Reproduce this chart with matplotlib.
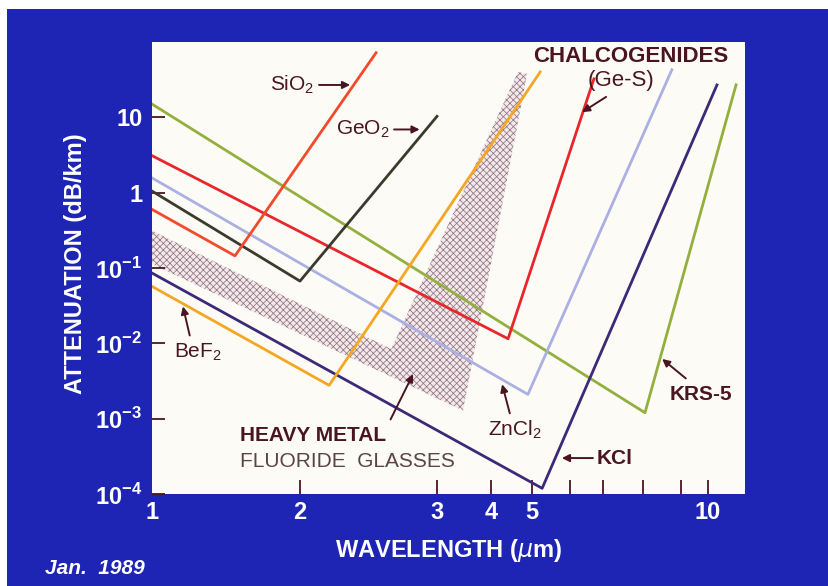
import numpy as np
import matplotlib.pyplot as plt
from matplotlib.patches import Rectangle

plt.rcParams['font.family'] = ['Liberation Sans', 'DejaVu Sans']
plt.rcParams['hatch.linewidth'] = 0.55

# wavelength (um) / attenuation (dB/km): start, minimum, end of each V curve
sio2_um = [1.0, 1.475, 2.505]
sio2_db = [0.6, 0.145, 72]
geo2_um = [1.0, 2.0, 3.0]
geo2_db = [1.05, 0.067, 10.3]
chalco_um = [1.0, 4.39, 6.71]
chalco_db = [3.1, 0.0115, 32.4]
zncl2_um = [1.0, 4.89, 8.75]
zncl2_db = [1.57, 0.0021, 42.8]
krs5_um = [1.0, 8.05, 11.17]
krs5_db = [15, 1.2e-3, 27]
kcl_um = [1.0, 5.25, 10.36]
kcl_db = [0.0857, 1.19e-4, 26.9]
bef2_um = [1.0, 2.18, 5.2]
bef2_db = [0.057, 0.00277, 40]

# heavy metal fluoride glasses: shaded region outline
hmf_um = [1.0, 2.62, 4.63, 4.87, 3.445, 1.0]
hmf_db = [0.314, 8.4e-3, 40, 37.8, 1.28e-3, 0.113]

x_ticks = [1, 2, 3, 4, 5, 10]
x_minor = [6, 7, 8, 9]
y_ticks = [1e-4, 1e-3, 1e-2, 1e-1, 1, 10]
y_labels = ['10$^{\\mathregular{-4}}$', '10$^{\\mathregular{-3}}$',
            '10$^{\\mathregular{-2}}$', '10$^{\\mathregular{-1}}$', '1', '10']

# the wavelength axis is hand ruled: tick spacing per decade is uneven
axis_um = np.log10([0.5, 1, 2, 3, 4, 5, 6, 7, 8, 9, 10, 20])
axis_pos = np.array([-148, 0, 148, 285, 339, 380, 418, 451, 491, 529, 556, 732], float)


def forward(x):
    return np.interp(np.log10(np.maximum(x, 1e-6)), axis_um, axis_pos)


def inverse(p):
    return 10 ** np.interp(p, axis_pos, axis_um)


blue = '#1e24b4'
ink = '#4a1522'

fig = plt.figure(figsize=(8.29, 5.86), dpi=100, facecolor='white')
fig.patches.append(Rectangle((7 / 829, 0), 1, 577 / 586, transform=fig.transFigure,
                             facecolor=blue, edgecolor='none', zorder=-5))

ax = fig.add_axes([152 / 829, 92 / 586, 593 / 829, 452 / 586])
ax.set_facecolor('#fdfbf6')
ax.set_xscale('function', functions=(forward, inverse))
ax.set_yscale('log')
ax.set_xlim(1, 11.57)
ax.set_ylim(1e-4, 1e2)

ax.fill(hmf_um, hmf_db, facecolor='#f1e9ea', edgecolor='#957584', hatch='xxxxx',
        linewidth=0, zorder=1)

lw = 2.0
ax.plot(krs5_um, krs5_db, color='#93b03e', lw=lw, zorder=2)
ax.plot(chalco_um, chalco_db, color='#e8262c', lw=lw, zorder=2)
ax.plot(zncl2_um, zncl2_db, color='#aab0e2', lw=lw, zorder=2)
ax.plot(geo2_um, geo2_db, color='#3b3a2c', lw=lw, zorder=2)
ax.plot(sio2_um, sio2_db, color='#f24a2a', lw=lw, zorder=2)
ax.plot(kcl_um, kcl_db, color='#3b2a78', lw=lw, zorder=2)
ax.plot(bef2_um, bef2_db, color='#f5a623', lw=lw, zorder=3)

for s in ax.spines.values():
    s.set_visible(False)

tick_font = dict(family=['Liberation Sans Narrow', 'Liberation Sans', 'DejaVu Sans'],
                 weight='bold', size=17, color='white')
ax.set_xticks(x_ticks)
ax.set_xticklabels([str(t) for t in x_ticks], **tick_font)
ax.set_xticks(x_minor, minor=True)
ax.set_yticks(y_ticks)
ax.set_yticklabels(y_labels, **tick_font)
ax.yaxis.set_minor_locator(plt.NullLocator())
ax.tick_params(axis='x', which='both', direction='in', length=10, width=1.3,
               color=ink, pad=5)
ax.tick_params(axis='y', direction='in', length=9, width=1.3, color=ink, pad=7)
ax.xaxis.get_major_ticks()[0].tick1line.set_visible(False)

ax.set_xlabel('WAVELENGTH ($\\mu$m)', **tick_font)
ax.xaxis.set_label_coords(0.50, -0.095)
ax.set_ylabel('ATTENUATION (dB/km)', **tick_font)
ax.yaxis.set_label_coords(-0.11, 0.51)

fig.text(45 / 829, 1 - 568 / 586, 'Jan.  1989', color='white', fontsize=15,
         fontweight='bold', style='italic', va='center',
         family=['Liberation Sans Narrow', 'Liberation Sans'])

arrow = dict(arrowstyle='-|>', color=ink, lw=1.4, mutation_scale=11,
             shrinkA=1, shrinkB=0)
lab = dict(color=ink, fontsize=15, va='center')

ax.annotate('SiO$\\mathregular{_2}$', xy=(2.32, 26.9), xytext=(2.09, 26.9),
            ha='right', arrowprops=arrow, **lab)
ax.annotate('GeO$\\mathregular{_2}$', xy=(2.85, 6.9), xytext=(2.61, 6.9),
            ha='right', arrowprops=arrow, **lab)
ax.text(7.69, 63.8, 'CHALCOGENIDES', ha='center', fontweight='bold',
        **{**lab, 'fontsize': 16})
ax.text(7.43, 30.4, '(Ge-S)', ha='center', **{**lab, 'fontsize': 16})
ax.annotate('', xy=(6.35, 11.7), xytext=(7.10, 19.1), arrowprops=arrow)
ax.text(1.24, 7.7e-3, 'BeF$\\mathregular{_2}$', ha='center', **lab)
ax.annotate('', xy=(1.156, 0.0309), xytext=(1.195, 0.0122), arrowprops=arrow)
ax.text(1.51, 5.9e-4, 'HEAVY METAL', ha='left', fontweight='bold', **lab)
ax.text(1.51, 2.73e-4, 'FLUORIDE  GLASSES', ha='left', color='#5a4446',
        fontsize=15, va='center')
ax.annotate('', xy=(2.795, 3.9e-3), xytext=(2.61, 9.4e-4), arrowprops=arrow)
ax.text(4.56, 7.1e-4, 'ZnCl$\\mathregular{_2}$', ha='center', **lab)
ax.annotate('', xy=(4.25, 2.86e-3), xytext=(4.44, 1.13e-3), arrowprops=arrow)
ax.annotate('KCl', xy=(5.77, 3.0e-4), xytext=(6.81, 3.0e-4), ha='left',
            fontweight='bold', arrowprops=arrow, **lab)
ax.text(9.73, 2.1e-3, 'KRS-5', ha='center', fontweight='bold', **lab)
ax.annotate('', xy=(8.49, 6.2e-3), xytext=(9.21, 3.33e-3), arrowprops=arrow)

fig.savefig('out.png', dpi=100, facecolor=fig.get_facecolor())
